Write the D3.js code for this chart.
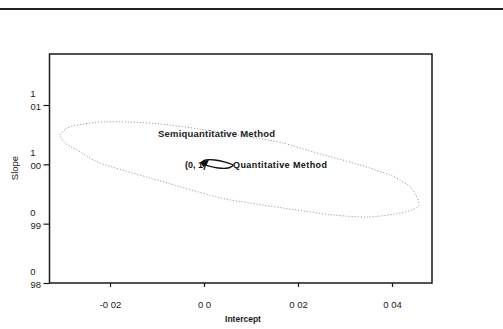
<!DOCTYPE html>
<html><head><meta charset="utf-8">
<script src="https://cdn.jsdelivr.net/npm/d3@7"></script>
<style>html,body{margin:0;padding:0;background:#fff;}svg{display:block;}</style>
</head><body>
<script>
// Data
const xTicks = [-0.02, 0.0, 0.02, 0.04];
const xTickLabels = ["-0 02", "0 0", "0 02", "0 04"];
const yTicks = [0.98, 0.99, 1.00, 1.01];
const yTickTop = ["0", "0", "1", "1"];
const yTickBottom = ["98", "99", "00", "01"];
// Semiquantitative method confidence ellipse (intercept, slope)
const semiX = [-0.0306,-0.0294,-0.0279,-0.0255,-0.0221,-0.0157,-0.0094,-0.0009,0.0098,0.0168,0.0240,0.0332,0.0396,0.0434,0.0451,0.0457,0.0443,0.0406,0.0347,0.0275,0.0198,0.0098,0.0028,-0.0115,-0.0221,-0.0270,-0.0296];
const semiY = [1.00494,1.00596,1.00646,1.00680,1.00713,1.00713,1.00680,1.00595,1.00461,1.00360,1.00191,0.99989,0.99820,0.99652,0.99483,0.99315,0.99230,0.99163,0.99112,0.99146,0.99230,0.99348,0.99449,0.99770,1.00022,1.00242,1.00360];
// Quantitative method confidence ellipse
const quantX = [-0.0006,0.0004,0.0023,0.0045,0.0062,0.0051,0.0030,0.0009];
const quantY = [1.00022,1.00073,1.00073,1.00039,0.99989,0.99938,0.99938,0.99972];
const refPoint = [0.0, 1.0];
const labels = {semi: "Semiquantitative Method", quant: "Quantitative Method", ref: "(0, 1)"};

(function () {
const W = 503, H = 329;
const svg = d3.select("body").append("svg").attr("width", W).attr("height", H);
const x = d3.scaleLinear().domain([-0.02, 0.04]).range([110, 392]);
const y = d3.scaleLinear().domain([0.98, 1.01]).range([283, 105]);
const pL = 49.5, pR = 432, pT = 54, pB = 283;
const ink = "#1a1a1a";
const FF = "Liberation Sans, Arial, sans-serif";

// top rule
svg.append("line").attr("x1", 0).attr("x2", W).attr("y1", 9).attr("y2", 9)
  .attr("stroke", "#222").attr("stroke-width", 2);

// frame
svg.append("rect").attr("x", pL).attr("y", pT).attr("width", pR - pL).attr("height", pB - pT)
  .attr("fill", "none").attr("stroke", ink).attr("stroke-width", 1.5);

// x axis
const xa = svg.append("g").attr("transform", `translate(0,${pB})`)
  .call(d3.axisBottom(x).tickValues(xTicks).tickSize(4).tickFormat((d, i) => xTickLabels[i]));
xa.select(".domain").remove();
xa.selectAll("line").attr("stroke", ink).attr("stroke-width", 1.2);
xa.selectAll("text").attr("font-family", FF).attr("font-size", 9.5)
  .attr("fill", ink).attr("dy", null).attr("y", 25);

// y axis
const ya = svg.append("g").attr("transform", `translate(${pL},0)`)
  .call(d3.axisLeft(y).tickValues(yTicks).tickSize(6).tickFormat(""));
ya.select(".domain").remove();
ya.selectAll("line").attr("stroke", ink).attr("stroke-width", 1.2);
yTicks.forEach((v, i) => {
  svg.append("text").attr("x", 33).attr("y", y(v) - 8).attr("text-anchor", "middle")
    .attr("font-family", FF).attr("font-size", 9.5).attr("fill", ink)
    .text(yTickTop[i]);
  svg.append("text").attr("x", 41).attr("y", y(v) + 5).attr("text-anchor", "end")
    .attr("font-family", FF).attr("font-size", 9.5).attr("fill", ink)
    .text(yTickBottom[i]);
});

// axis titles
svg.append("text").attr("x", 243).attr("y", 322).attr("text-anchor", "middle")
  .attr("font-family", FF).attr("font-size", 8.5).attr("font-weight", "bold")
  .attr("fill", ink).text("Intercept");
svg.append("text").attr("transform", "translate(18,168) rotate(-90)").attr("text-anchor", "middle")
  .attr("font-family", FF).attr("font-size", 9.5)
  .attr("fill", ink).text("Slope");

// ellipses
const line = d3.line().x(d => x(d[0])).y(d => y(d[1])).curve(d3.curveCardinalClosed.tension(0.2));
const semi = semiX.map((v, i) => [v, semiY[i]]);
svg.append("path").attr("d", line(semi)).attr("fill", "none")
  .attr("stroke", "#a0a0a0").attr("stroke-width", 1).attr("stroke-dasharray", "1.2,1.8");

const quant = quantX.map((v, i) => [v, quantY[i]]);
svg.append("path").attr("d", line(quant)).attr("fill", "none")
  .attr("stroke", "#111").attr("stroke-width", 1.3);

// reference point marker (arrowhead at (0,1))
const px = x(refPoint[0]), py = y(refPoint[1]);
svg.append("path").attr("d", `M${px - 3},${py - 2.5} L${px + 5},${py - 4.5} L${px + 3},${py} L${px - 1},${py + 3} Z`)
  .attr("fill", "#111");

// labels
svg.append("text").attr("x", 158).attr("y", 136.5)
  .attr("font-family", FF).attr("font-size", 9.5).attr("font-weight", "bold")
  .attr("fill", "#222").attr("textLength", 117).text(labels.semi);
svg.append("text").attr("x", 233).attr("y", 168)
  .attr("font-family", FF).attr("font-size", 9).attr("font-weight", "bold")
  .attr("fill", "#111").attr("textLength", 94).text(labels.quant);
svg.append("text").attr("x", 185).attr("y", 168)
  .attr("font-family", FF).attr("font-size", 9).attr("font-weight", "bold")
  .attr("fill", "#111").text(labels.ref);
})();
</script>
</body></html>
